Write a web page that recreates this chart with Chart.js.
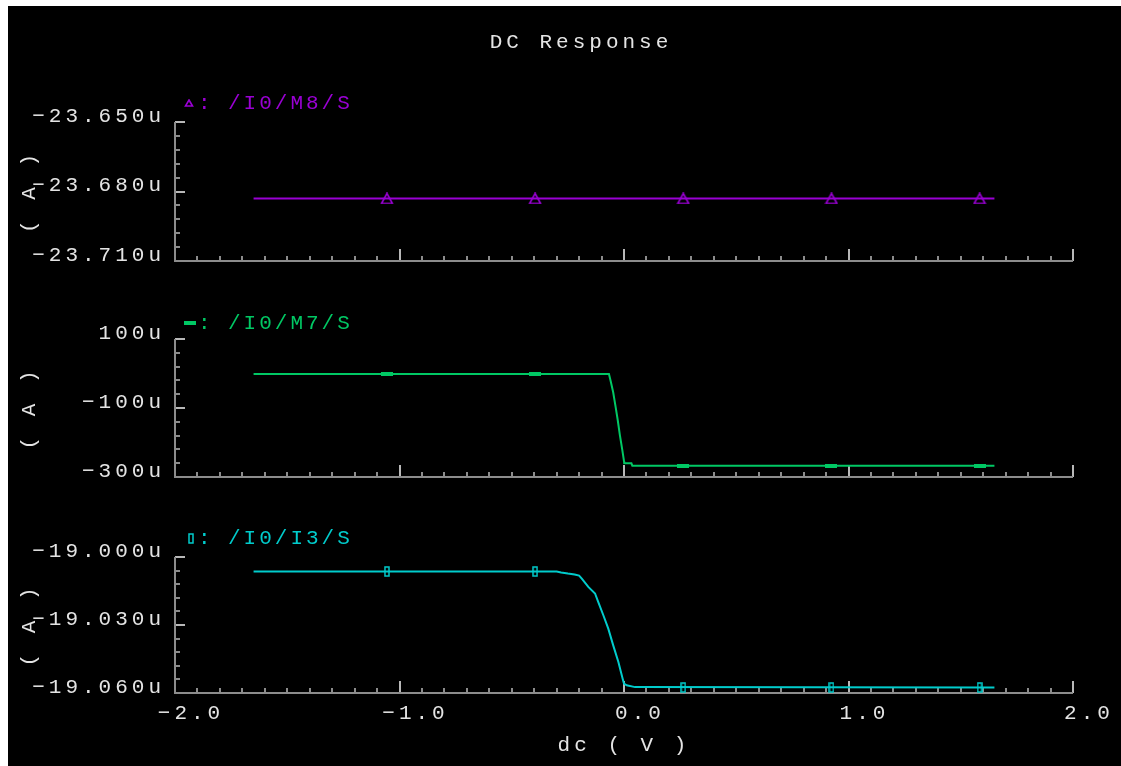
<!DOCTYPE html>
<html>
<head>
<meta charset="utf-8">
<title>DC Response</title>
<script src="https://cdn.jsdelivr.net/npm/chart.js@4.4.1/dist/chart.umd.min.js"></script>
<style>
  html, body { margin: 0; padding: 0; background: #fff; }
  #screen { position: relative; width: 1121px; height: 766px; overflow: hidden; }
  #screen .bg { position: absolute; left: 8px; top: 6px; right: 0; bottom: 0; background: #000; }
  #screen canvas { position: absolute; left: 0; }
</style>
</head>
<body>
<div id="screen">
  <div class="bg"></div>
  <canvas id="panelM8" width="1121" height="300" style="top:0"></canvas>
  <canvas id="panelM7" width="1121" height="220" style="top:300px"></canvas>
  <canvas id="panelI3" width="1121" height="246" style="top:520px"></canvas>
</div>
<script>
// DC sweep of the source currents (uA) against the dc source (V)
const m8Volts = [-1.65, 1.65];
const m8Amps = [-23.683, -23.683];

const m7Volts = [-1.65, -0.067, -0.060, -0.048, -0.037, -0.028, -0.018, -0.008, 0.0, 0.001, 0.033, 0.037, 1.65];
const m7Amps = [-1.4, -1.4, -20.0, -55.0, -98.0, -134.8, -180.0, -220.0, -254.0, -260.3, -260.3, -267.2, -267.2];

const i3Volts = [-1.65, -0.300, -0.280, -0.250, -0.220, -0.200, -0.188, -0.159, -0.129, -0.1145, -0.092,
                 -0.070, -0.048, -0.025, -0.006, 0.0, 0.012, 0.049, 1.65];
const i3Amps = [-19.0064, -19.0064, -19.0068, -19.0073, -19.0077, -19.0082, -19.0095, -19.0132, -19.0161, -19.0199, -19.0257,
                -19.0316, -19.0390, -19.0463, -19.0537, -19.0559, -19.0566, -19.0574, -19.0576];

// marker positions along each trace
const markerVolts = [-1.056, -0.396, 0.264, 0.924, 1.584];
const m8MarkerAmps = [-23.683, -23.683, -23.683, -23.683, -23.683];
const m7MarkerAmps = [-1.4, -1.4, -267.2, -267.2, -267.2];
const i3MarkerAmps = [-19.0064, -19.0064, -19.0576, -19.0576, -19.0576];

// tick labels, bottom to top / left to right
const xTickLabels = ['−2.0', '−1.0', '0.0', '1.0', '2.0'];
const m8TickLabels = ['−23.710u', '−23.680u', '−23.650u'];
const m7TickLabels = ['−300u', '−100u', '100u'];
const i3TickLabels = ['−19.060u', '−19.030u', '−19.000u'];

const PURPLE = '#9a00d4';
const GREEN = '#00c864';
const CYAN = '#00cccc';
const TEXT = '#e4e4e4';
const AXIS = '#8c8c8c';
const MAJOR = '#b8b8b8';
const FONT = "'Liberation Mono', 'DejaVu Sans Mono', monospace";

Chart.defaults.font.family = FONT;
Chart.defaults.font.size = 21;

// little canvases used as point styles
function makeMarker(w, h, draw) {
    const c = document.createElement('canvas');
    c.width = w;
    c.height = h;
    draw(c.getContext('2d'));
    return c;
}

function triangle(size) {
    return makeMarker(size + 2, size, g => {
        g.strokeStyle = PURPLE;
        g.lineWidth = 1.6;
        g.beginPath();
        g.moveTo((size + 2) / 2, 1);
        g.lineTo(size + 0.5, size - 1);
        g.lineTo(1.5, size - 1);
        g.closePath();
        g.stroke();
    });
}

const triangleMark = triangle(12);
const triangleSmall = triangle(8);
const barMark = makeMarker(12, 4, g => { g.fillStyle = GREEN; g.fillRect(0, 0, 12, 4); });
const boxMark = makeMarker(6, 11, g => { g.strokeStyle = CYAN; g.lineWidth = 1.5; g.strokeRect(1, 1, 4, 9); });

// wide character spacing for every label on the canvas
const spacing = {
    id: 'spacing',
    beforeLayout(chart) { chart.ctx.letterSpacing = '4px'; },
    beforeDraw(chart) { chart.ctx.letterSpacing = '4px'; }
};

// axis lines and inward tick marks
const axisFrame = {
    id: 'axisFrame',
    beforeDatasetsDraw(chart) {
        const {ctx, chartArea: a, scales: {x, y}} = chart;
        ctx.save();
        ctx.lineWidth = 2;
        y.ticks.forEach((t, i) => {
            const py = Math.round(y.getPixelForValue(t.value));
            const major = i % 5 === 0;
            ctx.strokeStyle = major ? MAJOR : AXIS;
            ctx.beginPath();
            ctx.moveTo(a.left, py);
            ctx.lineTo(a.left + (major ? 10 : 5), py);
            ctx.stroke();
        });
        x.ticks.forEach((t, i) => {
            const px = Math.round(x.getPixelForValue(t.value));
            const major = i % 10 === 0;
            ctx.strokeStyle = major ? MAJOR : AXIS;
            ctx.beginPath();
            ctx.moveTo(px, a.bottom);
            ctx.lineTo(px, a.bottom - (major ? 12 : 5));
            ctx.stroke();
        });
        ctx.strokeStyle = AXIS;
        ctx.beginPath();
        ctx.moveTo(a.left, a.top);
        ctx.lineTo(a.left, a.bottom);
        ctx.lineTo(a.right, a.bottom);
        ctx.stroke();
        ctx.restore();
    }
};

// trace legend above each strip, plus the window title on the first one
function stripText(legendY, mark, markX, title) {
    return {
        id: 'stripText',
        afterDraw(chart) {
            const ctx = chart.ctx;
            const ds = chart.data.datasets[0];
            ctx.save();
            ctx.font = '21px ' + FONT;
            ctx.textBaseline = 'middle';
            if (title) {
                ctx.letterSpacing = '4px';
                ctx.fillStyle = TEXT;
                ctx.textAlign = 'center';
                ctx.fillText(title, 581, 42);
            }
            ctx.drawImage(mark, Math.round(markX - mark.width / 2), Math.round(legendY - mark.height / 2));
            ctx.letterSpacing = '3px';
            ctx.fillStyle = ds.borderColor;
            ctx.textAlign = 'left';
            ctx.fillText(':', 198, legendY);
            ctx.fillText(ds.label, 228, legendY);
            ctx.restore();
        }
    };
}

function buildStrip(id, s) {
    return new Chart(document.getElementById(id), {
        type: 'line',
        data: {
            datasets: [
                {
                    label: s.name,
                    data: s.volts.map((v, i) => ({x: v, y: s.amps[i]})),
                    borderColor: s.color,
                    borderWidth: 2,
                    pointRadius: 0,
                    tension: 0
                },
                {
                    label: s.name + ' markers',
                    data: markerVolts.map((v, i) => ({x: v, y: s.markerAmps[i]})),
                    showLine: false,
                    pointStyle: s.marker,
                    pointRadius: 6
                }
            ]
        },
        options: {
            responsive: false,
            animation: false,
            events: [],
            layout: { padding: s.padding },
            plugins: {
                legend: { display: false },
                tooltip: { enabled: false }
            },
            scales: {
                x: {
                    type: 'linear',
                    min: -2,
                    max: 2,
                    ticks: {
                        display: s.showX,
                        stepSize: 0.1,
                        maxTicksLimit: 100,
                        autoSkip: false,
                        maxRotation: 0,
                        minRotation: 0,
                        color: TEXT,
                        padding: 8,
                        labelOffset: 16,
                        callback: (v, i) => i % 10 === 0 ? xTickLabels[i / 10] : ''
                    },
                    grid: { display: false, drawTicks: false },
                    border: { display: false },
                    title: {
                        display: s.showX,
                        text: 'dc ( V )',
                        color: TEXT,
                        padding: { top: 0, bottom: 8 }
                    },
                    afterFit: scale => { scale.height = s.showX ? 73 : 0; }
                },
                y: {
                    type: 'linear',
                    min: s.yMin,
                    max: s.yMax,
                    ticks: {
                        stepSize: s.yStep,
                        maxTicksLimit: 100,
                        autoSkip: false,
                        color: TEXT,
                        padding: 10,
                        labelOffset: -6,
                        callback: (v, i) => i % 5 === 0 ? s.tickLabels[i / 5] : ''
                    },
                    grid: { display: false, drawTicks: false },
                    border: { display: false },
                    title: {
                        display: true,
                        text: '( A )',
                        color: TEXT,
                        padding: { top: 17, bottom: 0 }
                    },
                    afterFit: scale => { scale.width = 175; }
                }
            }
        },
        plugins: [spacing, axisFrame, stripText(s.legendY, s.legendMark, s.legendX, s.title)]
    });
}

buildStrip('panelM8', {
    name: '/I0/M8/S', color: PURPLE, volts: m8Volts, amps: m8Amps, markerAmps: m8MarkerAmps,
    marker: triangleMark, legendMark: triangleSmall, legendX: 189, legendY: 103,
    yMin: -23.71, yMax: -23.65, yStep: 0.006, tickLabels: m8TickLabels,
    padding: { top: 122, bottom: 39, left: 0, right: 48 }, showX: false, title: 'DC Response'
});

buildStrip('panelM7', {
    name: '/I0/M7/S', color: GREEN, volts: m7Volts, amps: m7Amps, markerAmps: m7MarkerAmps,
    marker: barMark, legendMark: barMark, legendX: 190, legendY: 23,
    yMin: -300, yMax: 100, yStep: 40, tickLabels: m7TickLabels,
    padding: { top: 39, bottom: 43, left: 0, right: 48 }, showX: false
});

buildStrip('panelI3', {
    name: '/I0/I3/S', color: CYAN, volts: i3Volts, amps: i3Amps, markerAmps: i3MarkerAmps,
    marker: boxMark, legendMark: boxMark, legendX: 191, legendY: 18,
    yMin: -19.06, yMax: -19.0, yStep: 0.006, tickLabels: i3TickLabels,
    padding: { top: 37, bottom: 0, left: 0, right: 48 }, showX: true
});
</script>
</body>
</html>
